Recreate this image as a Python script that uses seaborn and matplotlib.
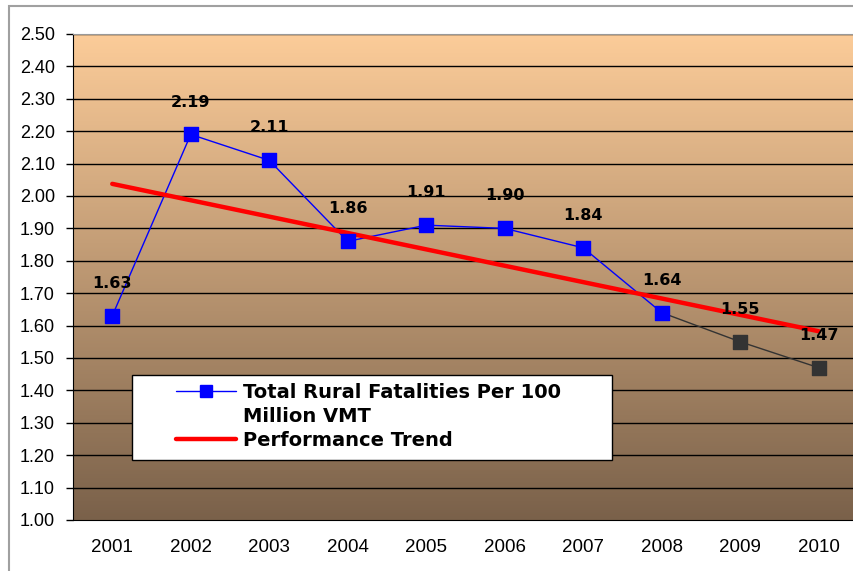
import numpy as np
import pandas as pd
import matplotlib
matplotlib.use('Agg')
import matplotlib.pyplot as plt
from matplotlib.colors import LinearSegmentedColormap
from matplotlib.lines import Line2D
from matplotlib.patches import Rectangle
import seaborn as sns

# ---------- DATA ----------
years = ['2001', '2002', '2003', '2004', '2005', '2006', '2007', '2008', '2009', '2010']
rate = [1.63, 2.19, 2.11, 1.86, 1.91, 1.90, 1.84, 1.64, 1.55, 1.47]
n_actual = 8  # 2001-2008 actual (blue), 2009-2010 projected (dark)

y_ticks = [1.00, 1.10, 1.20, 1.30, 1.40, 1.50, 1.60, 1.70, 1.80, 1.90,
           2.00, 2.10, 2.20, 2.30, 2.40, 2.50]

df = pd.DataFrame({'idx': np.arange(len(years)), 'year': years, 'rate': rate})
actual = df.iloc[:n_actual]
proj = df.iloc[n_actual - 1:]

# ---------- STYLE ----------
sns.set_style('white')
plt.rcParams['font.family'] = ['Liberation Sans', 'DejaVu Sans']
plt.rcParams['text.color'] = 'black'
plt.rcParams['xtick.color'] = 'black'
plt.rcParams['ytick.color'] = 'black'

fig = plt.figure(figsize=(8.54, 5.71), dpi=100)
ax = fig.add_axes([73 / 854, 51 / 571, 785 / 854, 486 / 571])

# gradient background
bg = LinearSegmentedColormap.from_list('bg', ['#7A614A', '#FCCC99'])
grad = np.linspace(0, 1, 256).reshape(-1, 1)
ax.imshow(grad, cmap=bg, aspect='auto', origin='lower',
          extent=[-0.5, 9.5, 1.0, 2.5], zorder=0)

# grid
for t in y_ticks[1:]:
    ax.axhline(t, color='black', lw=1, zorder=1)

# series lines
sns.lineplot(data=actual, x='idx', y='rate', color='#0000FF', lw=1, zorder=3, ax=ax)
sns.lineplot(data=proj, x='idx', y='rate', color='#333333', lw=1, zorder=3, ax=ax)

# trend
sns.regplot(data=df, x='idx', y='rate', ci=None, scatter=False, truncate=True,
            line_kws={'color': '#FF0000', 'lw': 3.2, 'zorder': 4}, ax=ax)

# markers
ax.scatter(actual['idx'], actual['rate'], marker='s', s=110, color='#0000FF',
           edgecolor='#0000FF', zorder=5)
ax.scatter(df['idx'].iloc[n_actual:], df['rate'].iloc[n_actual:], marker='s', s=110,
           color='#333333', edgecolor='#333333', zorder=5)

# value labels
for i, v in zip(df['idx'], df['rate']):
    ax.text(i, v + 0.10, f'{v:.2f}', ha='center', va='center', fontsize=11.5,
            fontweight='bold', color='black', family='DejaVu Sans', zorder=6)

# axes
ax.set_xlim(-0.5, 9.5)
ax.set_ylim(1.0, 2.5)
ax.set_xticks(df['idx'])
ax.set_xticklabels(years)
ax.set_xticks(np.arange(-0.5, 10, 1), minor=True)
ax.tick_params(axis='x', which='major', length=0, pad=14, labelsize=13.5)
ax.tick_params(axis='x', which='minor', length=5, width=1, direction='out', color='black')
ax.set_yticks(y_ticks)
ax.set_yticklabels([f'{t:.2f}' for t in y_ticks])
ax.tick_params(axis='y', length=5, width=1, direction='out', color='black',
               pad=8, labelsize=13, left=True)
ax.set_xlabel('')
ax.set_ylabel('')
ax.spines['right'].set_visible(False)
ax.spines['left'].set_color('black')
ax.spines['bottom'].set_color('black')
ax.spines['top'].set_color('#999999')

# legend box
ax.add_artist(Rectangle((132 / 854, (571 - 460) / 571), 480 / 854, 85 / 571,
                        transform=fig.transFigure, facecolor='white',
                        edgecolor='black', lw=1, zorder=6))
handles = [
    Line2D([], [], color='#0000FF', lw=1, marker='s', markersize=8),
    Line2D([], [], color='none'),
    Line2D([], [], color='#FF0000', lw=3.2),
]
labels = ['Total Rural Fatalities Per 100', 'Million VMT', 'Performance Trend']
leg = ax.legend(handles, labels, loc='upper left',
                bbox_to_anchor=(176 / 854, (571 - 383) / 571),
                bbox_transform=fig.transFigure, frameon=False,
                prop={'weight': 'bold', 'size': 14, 'family': 'DejaVu Sans'},
                handlelength=3.1, handletextpad=0.35, borderpad=0,
                labelspacing=0.25, borderaxespad=0, labelcolor='black')
leg.set_zorder(7)

# outer border
fig.add_artist(Rectangle((9 / 854, -0.1), 1.0, 1.1 - 6 / 571, transform=fig.transFigure,
                         fill=False, edgecolor='#A0A0A0', lw=1.5))

fig.savefig('out.png', dpi=100)
